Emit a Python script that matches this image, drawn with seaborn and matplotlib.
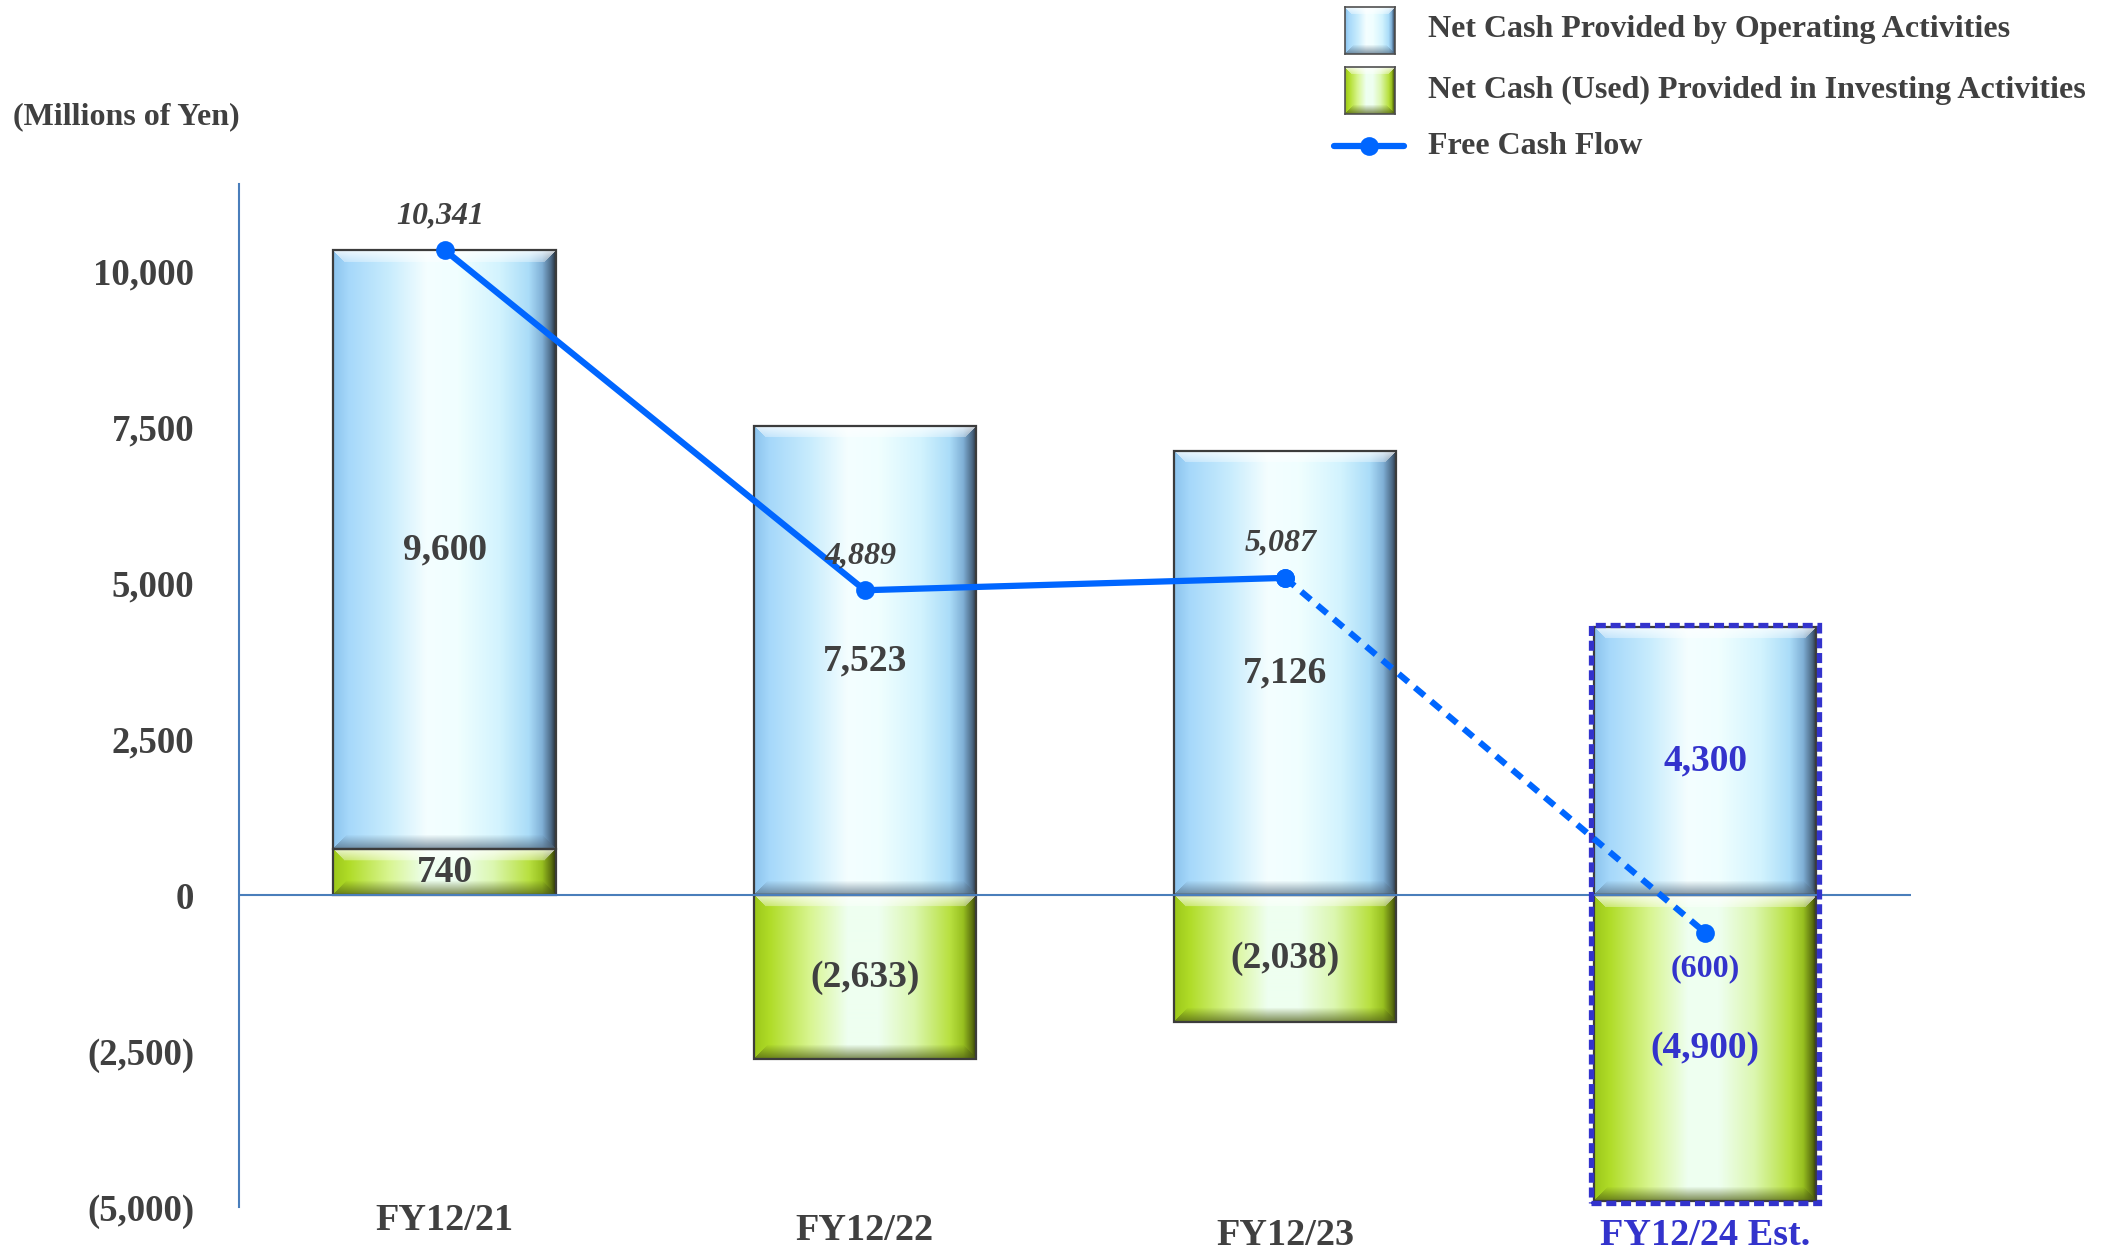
import numpy as np
import pandas as pd
import matplotlib
matplotlib.use("Agg")
import matplotlib.pyplot as plt
import seaborn as sns
from matplotlib.colors import to_rgb
from matplotlib.patches import Rectangle
from matplotlib.lines import Line2D
from matplotlib.ticker import FuncFormatter

# ---- data (millions of yen) ----
periods = ["FY12/21", "FY12/22", "FY12/23", "FY12/24 Est."]
operating = [9600, 7523, 7126, 4300]
investing = [740, -2633, -2038, -4900]
free_cash_flow = [10341, 4889, 5087, -600]
y_ticks = [-5000, -2500, 0, 2500, 5000, 7500, 10000]
legend_labels = [
    "Net Cash Provided by Operating Activities",
    "Net Cash (Used) Provided in Investing Activities",
    "Free Cash Flow",
]
unit_label = "(Millions of Yen)"


def yen(v, _pos=None):
    return f"({abs(v):,.0f})" if v < 0 else f"{v:,.0f}"


TEXT = "#404040"
EST = "#3333cc"
AXIS = "#4a7ebb"
LINE = "#0066ff"

BLUE_STOPS = [(0.0, "#8cc4ee"), (0.07, "#a6d8fa"), (0.25, "#c8ecfd"), (0.42, "#f4feff"),
              (0.56, "#f0ffff"), (0.75, "#d2f3fe"), (0.88, "#aadcf8"), (0.94, "#80b0d6"),
              (0.98, "#4d6a86"), (1.0, "#2a3440")]
GREEN_STOPS = [(0.0, "#9cc81a"), (0.07, "#b0dc28"), (0.25, "#d8f590"), (0.42, "#eefff0"),
               (0.56, "#eefff0"), (0.72, "#dcf7b0"), (0.88, "#b8e040"), (0.94, "#98c020"),
               (0.98, "#5e7410"), (1.0, "#303a08")]
BLUE_DARK = (0.33, 0.42, 0.50)
GREEN_DARK = (0.30, 0.36, 0.08)

sns.set_theme(style="white")
plt.rcParams["font.family"] = ["Liberation Serif", "DejaVu Serif"]
plt.rcParams["font.weight"] = "bold"


def shade(stops, wpx, hpx, dark, bev=12):
    """Bevelled glossy fill: horizontal sheen, light top edge, dark bottom edge."""
    t = np.linspace(0, 1, wpx)
    pos = [s[0] for s in stops]
    cols = np.array([to_rgb(s[1]) for s in stops])
    row = np.stack([np.interp(t, pos, cols[:, k]) for k in range(3)], axis=-1)
    img = np.repeat(row[None, :, :], hpx, axis=0)
    i = np.arange(hpx)[:, None]
    j = np.arange(wpx)[None, :]
    top = (i < bev) & (j >= i) & (j < wpx - i)
    a_top = np.where(top, 0.8 * (1 - 0.6 * i / bev), 0.0)
    img = img * (1 - a_top[..., None]) + a_top[..., None]
    k = hpx - 1 - i
    bb = bev + 2
    bot = (k < bb) & (j >= k) & (j < wpx - k)
    a_bot = np.where(bot, 0.7 * (1 - k / bb), 0.0)
    img = img * (1 - a_bot[..., None]) + a_bot[..., None] * np.array(dark)
    return np.clip(img, 0, 1)


df = pd.DataFrame({"period": periods, "operating": operating,
                   "investing": investing, "fcf": free_cash_flow})
base = df["investing"].clip(lower=0).to_numpy()

fig = plt.figure(figsize=(21.03, 12.55), dpi=100)
ax = fig.add_axes([0.1136, 0.0382, 0.7951, 0.8151])

sns.barplot(data=df, x="period", y="investing", order=periods, width=0.53,
            color="#b8e040", errorbar=None, ax=ax)
sns.barplot(data=df, x="period", y="operating", order=periods, width=0.53,
            color="#a9dafb", errorbar=None, ax=ax)
inv_bars = ax.patches[:4]
op_bars = ax.patches[4:8]
for p, b in zip(op_bars, base):
    p.set_y(b)

XLIM = (-0.49, 3.49)
YLIM = (-5000, 11400)
ax.set_xlim(*XLIM)
ax.set_ylim(*YLIM)

# pixel scale of the data space, used to size the fill images
p0 = ax.transData.transform((0, 0))
p1 = ax.transData.transform((1, 1000))
ppx_x = p1[0] - p0[0]
ppu_y = (p1[1] - p0[1]) / 1000.0

for bars, stops, dark in ((op_bars, BLUE_STOPS, BLUE_DARK), (inv_bars, GREEN_STOPS, GREEN_DARK)):
    for p in bars:
        x0, w = p.get_x(), p.get_width()
        y0, h = p.get_y(), p.get_height()
        lo, hi = min(y0, y0 + h), max(y0, y0 + h)
        wpx = max(int(round(w * ppx_x)), 4)
        hpx = max(int(round((hi - lo) * ppu_y)), 4)
        img = shade(stops, wpx, hpx, dark)
        ax.imshow(img, extent=(x0, x0 + w, lo, hi), origin="upper", aspect="auto",
                  interpolation="bilinear", zorder=2)
        p.set_facecolor("none")
        p.set_edgecolor("#3c3c3c")
        p.set_linewidth(1.6)
        p.set_zorder(3)

ax.set_xlim(*XLIM)
ax.set_ylim(*YLIM)

# zero line
ax.axhline(0, color=AXIS, lw=1.5, zorder=4)

# dashed frame around the estimate bar
est_top = op_bars[3].get_y() + op_bars[3].get_height()
est_bot = inv_bars[3].get_y() + inv_bars[3].get_height()
bx = op_bars[3].get_x()
bw = op_bars[3].get_width()
pad_x = 3 / ppx_x
pad_y = 2 / ppu_y
ax.add_patch(Rectangle((bx - pad_x, est_bot - pad_y), bw + 2 * pad_x,
                       est_top - est_bot + 2 * pad_y, fill=False, edgecolor=EST,
                       lw=3.8, linestyle=(0, (1.9, 0.9)), zorder=4.5))

# free cash flow line: actuals solid, estimate dashed
xpos = np.arange(len(periods))
sns.lineplot(x=xpos[:3], y=free_cash_flow[:3], ax=ax, color=LINE, lw=4.5,
             marker="o", markersize=13.5, markeredgewidth=0, zorder=5)
sns.lineplot(x=xpos[2:], y=free_cash_flow[2:], ax=ax, color=LINE, lw=4.5,
             linestyle=(0, (2.0, 1.4)), marker="o", markersize=13.5,
             markeredgewidth=0, zorder=5)

# value labels in the bars
for i in range(len(periods)):
    col = EST if i == 3 else TEXT
    ax.text(i, base[i] + operating[i] / 2, yen(operating[i]), ha="center", va="center",
            fontsize=27, color=col, fontweight="bold", zorder=6)
    ax.text(i, investing[i] / 2, yen(investing[i]), ha="center", va="center",
            fontsize=27, color=col, fontweight="bold", zorder=6)

# free cash flow labels
for i, v in enumerate(free_cash_flow):
    if v >= 0:
        ax.annotate(yen(v), (i, v), xytext=(-3, 25), textcoords="offset points",
                    ha="center", va="center", fontsize=23, style="italic",
                    fontweight="bold", color=TEXT, zorder=6)
    else:
        ax.annotate(yen(v), (i, v), xytext=(0, -26), textcoords="offset points",
                    ha="center", va="center", fontsize=23, fontweight="bold",
                    color=EST, zorder=6)

# axes styling
for side in ("top", "right", "bottom"):
    ax.spines[side].set_visible(False)
ax.spines["left"].set_color(AXIS)
ax.spines["left"].set_linewidth(1.5)
ax.set_yticks(y_ticks)
ax.yaxis.set_major_formatter(FuncFormatter(yen))
ax.tick_params(axis="y", direction="in", length=8, width=1.5, color=AXIS,
               labelsize=26.5, labelcolor=TEXT, pad=32)
ax.set_xticks([])
ax.set_xlabel("")
ax.set_ylabel("")
ax.grid(False)

# category labels under the bars
cat_y = [-0.013, -0.023, -0.028, -0.028]
for i, name in enumerate(periods):
    ax.text(i, cat_y[i], name, transform=ax.get_xaxis_transform(), ha="center",
            va="center", fontsize=27.5, fontweight="bold",
            color=EST if i == 3 else TEXT)

fig.text(13 / 2103, 1 - 117 / 1255, unit_label, ha="left", va="center",
         fontsize=23, fontweight="bold", color=TEXT)

# legend
W, H = 2103, 1255
sw_x, sw_w, sw_h = 1345, 50, 47
for top_px, stops, dark in ((7, BLUE_STOPS, BLUE_DARK), (67, GREEN_STOPS, GREEN_DARK)):
    sax = fig.add_axes([sw_x / W, 1 - (top_px + sw_h) / H, sw_w / W, sw_h / H])
    sax.imshow(shade(stops, sw_w, sw_h, dark, bev=7), aspect="auto", interpolation="bilinear")
    sax.set_xticks([])
    sax.set_yticks([])
    for s in sax.spines.values():
        s.set_visible(True)
        s.set_color("#505050")
        s.set_linewidth(1.2)

ly = 1 - 146 / H
fig.add_artist(Line2D([1334 / W, 1404 / W], [ly, ly], color=LINE, lw=4.5,
                      transform=fig.transFigure))
fig.add_artist(Line2D([1369 / W], [ly], color=LINE, marker="o", markersize=13.5,
                      markeredgewidth=0, transform=fig.transFigure))

for y_px, label in zip((30, 90, 146), legend_labels):
    fig.text(1428 / W, 1 - y_px / H, label, ha="left", va="center", fontsize=23,
             fontweight="bold", color=TEXT)

fig.savefig("out.png", dpi=100)
